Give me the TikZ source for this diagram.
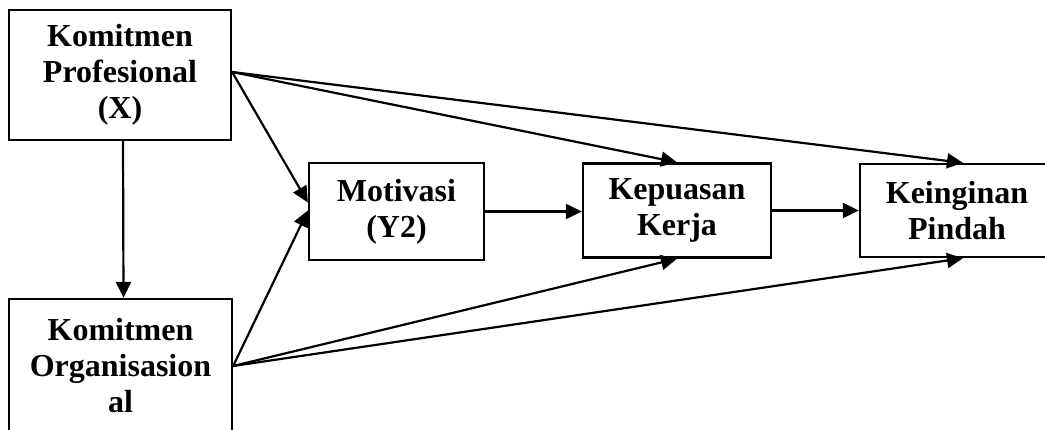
\documentclass[tikz,border=0pt]{standalone}
\usepackage{fontspec}
\setmainfont{Liberation Serif}
\usetikzlibrary{arrows.meta}

\begin{document}
\begin{tikzpicture}[x=1pt,y=-1pt,
  box/.style={draw,line width=2.3pt,inner sep=0pt,align=center,
    font=\bfseries\fontsize{32}{36}\selectfont},
  arr/.style={line width=2.2pt,-{Triangle[length=16pt,width=15pt]}}]

\useasboundingbox (0,0) rectangle (1045,430);

\node[box,minimum width=222pt,minimum height=130pt] (kx) at (120,75)
  {Komitmen\\Profesional\\(X)};
\node[box,minimum width=223pt,minimum height=134pt] (ko) at (120.5,366)
  {Komitmen\\Organisasion\\al};
\node[box,minimum width=175pt,minimum height=97pt] (mv) at (396.5,211.5)
  {Motivasi\\(Y2)};
\node[box,minimum width=188pt,minimum height=94pt] (kp) at (677,210.5)
  {Kepuasan\\Kerja};
\node[box,minimum width=194pt,minimum height=93pt] (kg) at (957,210.5)
  {Keinginan\\Pindah};

\draw[arr] ([xshift=3pt]kx.south) -- ([xshift=3pt]ko.north);
\draw[arr] ([yshift=3pt]kx.east) -- ([yshift=9pt]mv.west);
\draw[arr] ([yshift=3pt]kx.east) -- (kp.north);
\draw[arr] ([yshift=3pt]kx.east) -- ([xshift=6pt]kg.north);

\draw[arr] (ko.east) -- ([yshift=1pt]mv.west);
\draw[arr] (ko.east) -- (kp.south);
\draw[arr] (ko.east) -- ([xshift=6pt]kg.south);

\draw[arr] (mv.east) -- (mv.east -| kp.west);
\draw[arr] (kp.east) -- (kg.west);
\end{tikzpicture}
\end{document}
